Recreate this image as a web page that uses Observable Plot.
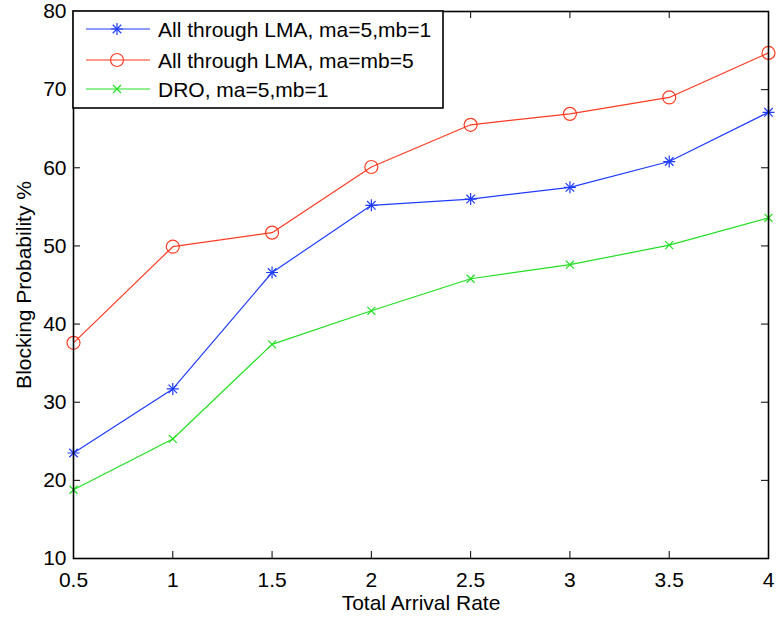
<!DOCTYPE html>
<html><head><meta charset="utf-8">
<script src="https://cdn.jsdelivr.net/npm/d3@7"></script>
<script src="https://cdn.jsdelivr.net/npm/@observablehq/plot@0.6"></script>
<style>
body{margin:0;background:#fff}
#wrap{position:relative;width:776px;height:617px}
#wrap svg{display:block}
</style>
</head><body><div id="wrap"></div>
<script>
// ---- data ----
const rates = [0.5, 1, 1.5, 2, 2.5, 3, 3.5, 4];
const lmaOne = [23.5, 31.7, 46.6, 55.2, 56.0, 57.5, 60.8, 67.1];
const lmaFive = [37.6, 49.9, 51.7, 60.1, 65.5, 66.9, 69.0, 74.7];
const dro = [18.8, 25.3, 37.4, 41.7, 45.8, 47.6, 50.1, 53.6];
const seriesNames = ["All through LMA, ma=5,mb=1", "All through LMA, ma=mb=5", "DRO, ma=5,mb=1"];
const xTicks = [0.5, 1, 1.5, 2, 2.5, 3, 3.5, 4];
const yTicks = [10, 20, 30, 40, 50, 60, 70, 80];
const xLabel = "Total Arrival Rate";
const yLabel = "Blocking Probability %";

// ---- styles ----
const colors = ["#1f3cff", "#ff3b22", "#22e022"];
const W = 776, H = 617, mL = 73, mR = 8, mT = 11, mB = 59;
const innerW = W - mL - mR, innerH = H - mT - mB, tick = 7;
const font = "'Liberation Sans', Arial, Helvetica, sans-serif";
const fs = "21px";

const rows = (vals, s) => rates.map((x, i) => ({x, y: vals[i], s}));
const dOne = rows(lmaOne, seriesNames[0]);
const dFive = rows(lmaFive, seriesNames[1]);
const dDro = rows(dro, seriesNames[2]);
const all = [...dOne, ...dFive, ...dDro];

const chart = Plot.plot({
  width: W, height: H,
  marginLeft: mL, marginRight: mR, marginTop: mT, marginBottom: mB,
  style: {fontFamily: font, fontSize: fs, color: "#000", background: "#fff", overflow: "visible"},
  x: {domain: [0.5, 4]},
  y: {domain: [10, 80]},
  color: {domain: seriesNames, range: colors},
  marks: [
    Plot.axisX({ticks: xTicks, tickSize: 0, tickPadding: 14, label: null, tickFormat: d => String(d)}),
    Plot.axisY({ticks: yTicks, tickSize: 0, tickPadding: 7, label: null, tickFormat: d => String(d)}),
    Plot.ruleX(xTicks, {insetTop: innerH - tick, stroke: "#000", strokeWidth: 1}),
    Plot.ruleX(xTicks, {insetBottom: innerH - tick, stroke: "#000", strokeWidth: 1}),
    Plot.ruleY(yTicks, {insetRight: innerW - tick, stroke: "#000", strokeWidth: 1}),
    Plot.ruleY(yTicks, {insetLeft: innerW - tick, stroke: "#000", strokeWidth: 1}),
    Plot.line(all, {x: "x", y: "y", z: "s", stroke: "s", strokeWidth: 1.2}),
    Plot.dot(dOne, {x: "x", y: "y", symbol: "plus", r: 3.95, stroke: colors[0], fill: "none", strokeWidth: 1.2}),
    Plot.dot(dOne, {x: "x", y: "y", symbol: "times", r: 3.95, stroke: colors[0], fill: "none", strokeWidth: 1.2}),
    Plot.dot(dFive, {x: "x", y: "y", symbol: "circle", r: 6.5, stroke: colors[1], fill: "none", strokeWidth: 1.2}),
    Plot.dot(dDro, {x: "x", y: "y", symbol: "times", r: 3.7, stroke: colors[2], fill: "none", strokeWidth: 1.2}),
    Plot.frame({stroke: "#000", strokeWidth: 1.6}),
    Plot.text([xLabel], {frameAnchor: "bottom", textAnchor: "middle", lineAnchor: "bottom", dy: 51, fill: "#000"}),
    Plot.text([yLabel], {frameAnchor: "left", textAnchor: "middle", lineAnchor: "bottom", rotate: -90, dx: -43, fill: "#000"})
  ]
});
const wrap = document.getElementById("wrap");
wrap.appendChild(chart);

// ---- legend overlay ----
const lg = d3.select(wrap).append("svg")
  .attr("width", 372).attr("height", 99)
  .style("position", "absolute").style("left", (mL - 1) + "px").style("top", (mT - 1) + "px")
  .style("font-family", font).style("font-size", fs);
lg.append("rect").attr("x", 1).attr("y", 1).attr("width", 370).attr("height", 97)
  .attr("fill", "#fff").attr("stroke", "#000").attr("stroke-width", 1.6);
const rowY = [19, 50, 79];
const symDefs = [
  [[d3.symbolPlus, 3.95], [d3.symbolTimes, 3.95]],
  [[d3.symbolCircle, 6.5]],
  [[d3.symbolTimes, 3.7]]
];
seriesNames.forEach((name, i) => {
  const g = lg.append("g").attr("transform", `translate(0,${rowY[i]})`);
  g.append("line").attr("x1", 14).attr("x2", 78).attr("y1", 0).attr("y2", 0)
    .attr("stroke", colors[i]).attr("stroke-width", 1.2);
  symDefs[i].forEach(([t, r]) => {
    g.append("path").attr("transform", "translate(45,0)")
      .attr("d", d3.symbol(t, Math.PI * r * r)())
      .attr("fill", "none").attr("stroke", colors[i]).attr("stroke-width", 1.2);
  });
  g.append("text").attr("x", 86).attr("y", 7.5).attr("fill", "#000").text(name);
});
</script>
</body></html>
